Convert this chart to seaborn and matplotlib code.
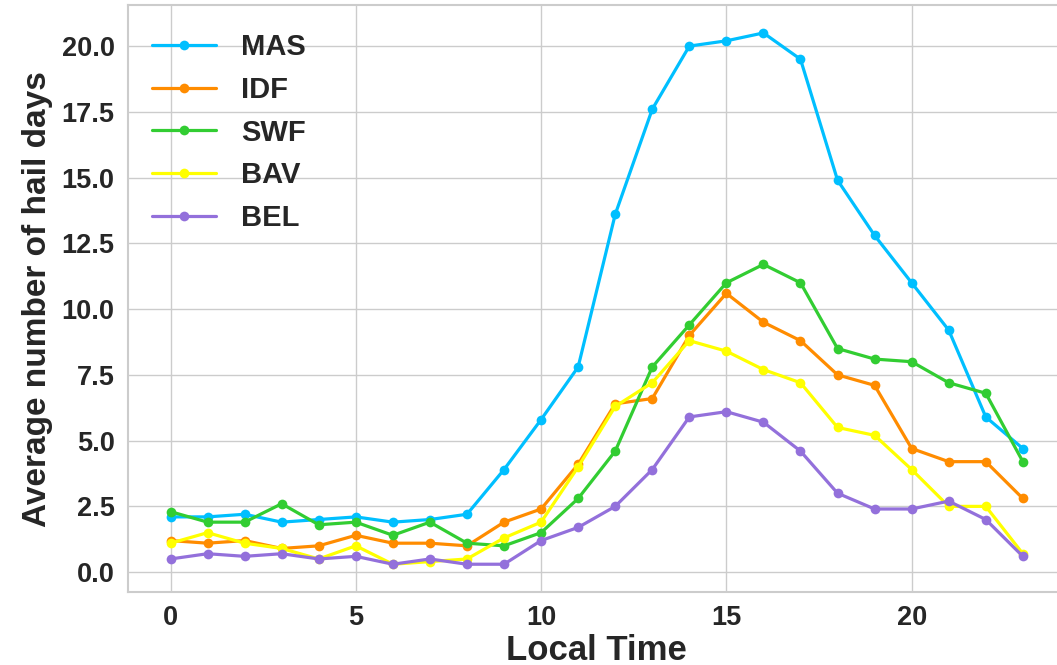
import numpy as np
import pandas as pd
import matplotlib
matplotlib.use("Agg")
import matplotlib.pyplot as plt
import seaborn as sns

hours = list(range(24))
regions = ["MAS", "IDF", "SWF", "BAV", "BEL"]
colors = ["#00BFFF", "#FF8C00", "#32CD32", "#FFFF00", "#9370DB"]

mas = [2.1, 2.1, 2.2, 1.9, 2.0, 2.1, 1.9, 2.0, 2.2, 3.9, 5.8, 7.8,
       13.6, 17.6, 20.0, 20.2, 20.5, 19.5, 14.9, 12.8, 11.0, 9.2, 5.9, 4.7]
idf = [1.2, 1.1, 1.2, 0.9, 1.0, 1.4, 1.1, 1.1, 1.0, 1.9, 2.4, 4.1,
       6.4, 6.6, 9.0, 10.6, 9.5, 8.8, 7.5, 7.1, 4.7, 4.2, 4.2, 2.8]
swf = [2.3, 1.9, 1.9, 2.6, 1.8, 1.9, 1.4, 1.9, 1.1, 1.0, 1.5, 2.8,
       4.6, 7.8, 9.4, 11.0, 11.7, 11.0, 8.5, 8.1, 8.0, 7.2, 6.8, 4.2]
bav = [1.1, 1.5, 1.1, 0.9, 0.5, 1.0, 0.3, 0.4, 0.5, 1.3, 1.9, 4.0,
       6.3, 7.2, 8.8, 8.4, 7.7, 7.2, 5.5, 5.2, 3.9, 2.5, 2.5, 0.7]
bel = [0.5, 0.7, 0.6, 0.7, 0.5, 0.6, 0.3, 0.5, 0.3, 0.3, 1.2, 1.7,
       2.5, 3.9, 5.9, 6.1, 5.7, 4.6, 3.0, 2.4, 2.4, 2.7, 2.0, 0.6]

series = {"MAS": mas, "IDF": idf, "SWF": swf, "BAV": bav, "BEL": bel}
df = pd.concat([pd.DataFrame({"Local Time": hours, "value": v, "region": k})
                for k, v in series.items()], ignore_index=True)

sns.set_theme(style="whitegrid")
plt.rcParams["font.family"] = ["Liberation Sans", "DejaVu Sans"]
plt.rcParams["font.weight"] = "bold"

fig = plt.figure(figsize=(10.57, 6.65), dpi=100)
ax = fig.add_axes([0.121, 0.110, 0.887, 0.882])

sns.lineplot(data=df, x="Local Time", y="value", hue="region",
             hue_order=regions, palette=colors, marker="o",
             markersize=7, markeredgewidth=0, linewidth=2.3, ax=ax)

ax.set_xlim(-1.15, 24.15)
ax.set_ylim(-0.75, 21.55)
ax.set_xticks([0, 5, 10, 15, 20])
ax.set_yticks(np.arange(0, 20.1, 2.5))
ax.set_yticklabels([f"{v:.1f}" for v in np.arange(0, 20.1, 2.5)])
ax.tick_params(axis="both", labelsize=19.5, colors="#262626")
for lab in ax.get_xticklabels() + ax.get_yticklabels():
    lab.set_fontweight("bold")
ax.set_xlabel("Local Time", fontsize=25, fontweight="bold", color="#262626",
              labelpad=2)
ax.set_ylabel("Average number of hail days", fontsize=24, fontweight="bold",
              color="#262626", labelpad=6)
for s in ax.spines.values():
    s.set_color("#cccccc")
    s.set_linewidth(1.5)

leg = ax.legend(loc="upper left", bbox_to_anchor=(0.013, 0.972),
                frameon=False, prop={"size": 21, "weight": "bold"},
                handlelength=2.2, borderaxespad=0.0, labelspacing=0.5,
                handletextpad=0.85)
for t in leg.get_texts():
    t.set_color("#262626")

fig.savefig("out.png", dpi=100)
